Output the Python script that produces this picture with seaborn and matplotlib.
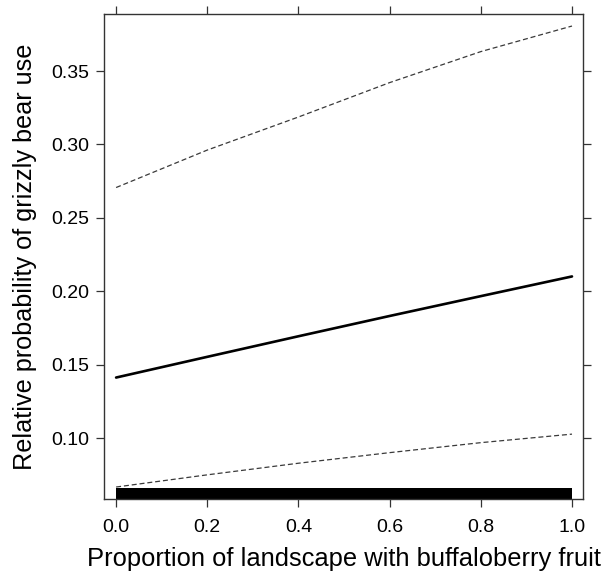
import matplotlib
matplotlib.use("Agg")
import matplotlib.pyplot as plt
import seaborn as sns
import pandas as pd

# ---- data ----
x_vals = [0.0, 0.2, 0.4, 0.6, 0.8, 1.0]
mean_prob = [0.1414, 0.1555, 0.1695, 0.1833, 0.1968, 0.2102]
upper_ci = [0.2707, 0.2962, 0.3187, 0.3421, 0.3632, 0.3806]
lower_ci = [0.0669, 0.0752, 0.0831, 0.0903, 0.0971, 0.1029]
rug_x = [0.01, 0.03, 0.05, 0.07, 0.09, 0.11, 0.13, 0.15, 0.17, 0.19,
         0.21, 0.23, 0.25, 0.27, 0.29, 0.31, 0.33, 0.35, 0.37, 0.39,
         0.41, 0.43, 0.45, 0.47, 0.49, 0.51, 0.53, 0.55, 0.57, 0.59,
         0.61, 0.63, 0.65, 0.67, 0.69, 0.71, 0.73, 0.75, 0.77, 0.79,
         0.81, 0.83, 0.85, 0.87, 0.89, 0.91, 0.93, 0.95, 0.97, 0.99]
x_ticks = [0.0, 0.2, 0.4, 0.6, 0.8, 1.0]
y_ticks = [0.10, 0.15, 0.20, 0.25, 0.30, 0.35]
x_label = "Proportion of landscape with buffaloberry fruit"
y_label = "Relative probability of grizzly bear use"

df = pd.DataFrame({"x": x_vals, "mean": mean_prob, "upper": upper_ci, "lower": lower_ci})

sns.set_style("white")
plt.rcParams["font.family"] = ["Liberation Sans", "DejaVu Sans"]

fig = plt.figure(figsize=(6.14, 5.73), dpi=100)
ax = fig.add_axes([0.170, 0.129, 0.780, 0.8466])

dash_col = "#3a3a3a"
sns.lineplot(data=df, x="x", y="upper", ax=ax, color=dash_col, lw=0.9)
sns.lineplot(data=df, x="x", y="lower", ax=ax, color=dash_col, lw=0.9)
for ln in ax.lines:
    ln.set_dashes((4, 2.3))
sns.lineplot(data=df, x="x", y="mean", ax=ax, color="black", lw=1.9)
sns.rugplot(x=rug_x, ax=ax, height=0.0227, color="black", linewidth=7.2,
            expand_margins=False, capstyle="butt", antialiased=False)

ax.set_xlim(-0.0257, 1.0248)
ax.set_ylim(0.0587, 0.3888)
ax.set_xticks(x_ticks)
ax.set_xticklabels([f"{v:.1f}" for v in x_ticks])
ax.set_yticks(y_ticks)
ax.set_yticklabels([f"{v:.2f}" for v in y_ticks])

ax.tick_params(axis="both", which="both", direction="out", length=5.5,
               width=0.9, color="#333333", labelsize=14, labelcolor="black",
               bottom=True, top=True, left=True, right=True,
               labelbottom=True, labeltop=False, labelleft=True, labelright=False)
ax.tick_params(axis="x", pad=8.5)
ax.tick_params(axis="y", pad=5.3)
for s in ax.spines.values():
    s.set_color("#333333")
    s.set_linewidth(1.0)

ax.set_xlabel(x_label, fontsize=18.4, labelpad=8.2, color="black")
ax.set_ylabel(y_label, fontsize=18.2, labelpad=10, color="black")

fig.savefig("out.png", dpi=100)
